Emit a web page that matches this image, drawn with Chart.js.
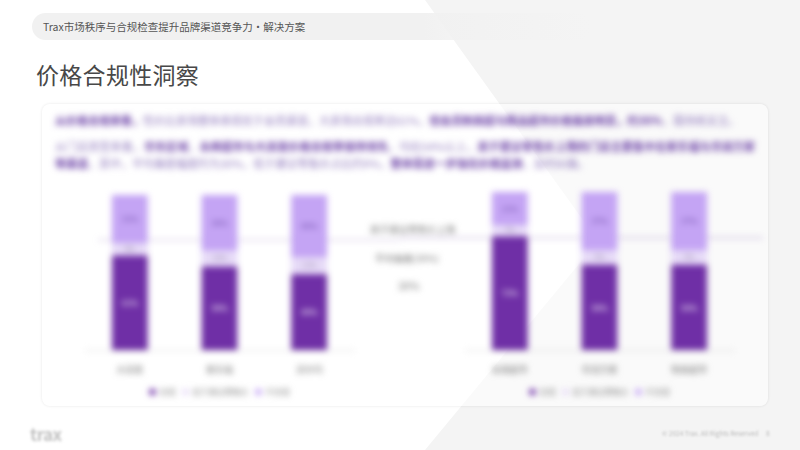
<!DOCTYPE html>
<html lang="zh-CN">
<head>
<meta charset="utf-8">
<title>价格合规性洞察</title>
<script src="https://cdn.jsdelivr.net/npm/chart.js@4.4.1/dist/chart.umd.min.js"></script>
<style>
  html, body { margin: 0; padding: 0; }
  body {
    width: 800px; height: 450px; position: relative; overflow: hidden;
    background: #fff;
    font-family: "Noto Sans CJK SC", "Noto Sans", sans-serif;
  }
  .bg {
    position: absolute; left: 0; top: 0; width: 800px; height: 450px;
    background: #f4f4f4;
    clip-path: polygon(425px 0, 800px 0, 800px 450px, 425px 450px, 598px 241px);
  }
  .topbar {
    position: absolute; left: 32px; top: 13px; width: 560px; height: 27px;
    border-radius: 14px;
    background: linear-gradient(90deg, #f1f1f1 0%, #f1f1f1 70%, rgba(241,241,241,0) 100%);
  }
  .topbar span {
    position: absolute; left: 11px; top: 6px;
    font-size: 10.5px; color: #555; white-space: nowrap;
  }
  h1 {
    position: absolute; left: 36px; top: 57px; margin: 0;
    font-size: 23px; font-weight: 400; color: #484848; letter-spacing: 0.3px;
  }
  .card {
    position: absolute; left: 42px; top: 104px; width: 726px; height: 302px;
    border-radius: 8px;
    background: rgba(255,255,255,0.55);
    box-shadow: 0 0 3px rgba(0,0,0,0.10);
  }
  .blurred { position: absolute; left: 0; top: 0; width: 100%; height: 100%; filter: blur(3px); }
  .para { position: absolute; left: 13px; width: 700px; font-size: 11px; color: #9079bd; margin: 0; }
  .para b { color: #6a3fa6; font-weight: 700; }
  .p1 { top: 8px; white-space: nowrap; }
  .p2 { top: 34px; line-height: 17px; text-align: justify; }
  .chart { position: absolute; top: 76px; height: 226px; }
  #leftBox { left: 38px; width: 320px; }
  #rightBox { left: 358px; width: 365px; }
  .note { position: absolute; font-size: 9.5px; color: #777; white-space: nowrap; }
  .footer-logo {
    position: absolute; left: 30px; top: 421px; font-size: 17px; font-weight: 700;
    color: #c2c2c2; letter-spacing: -0.5px; filter: blur(1.5px);
  }
  .footer-text { position: absolute; top: 428px; font-size: 6.5px; color: #bbb; filter: blur(1px); }
</style>
</head>
<body>
<div class="bg"></div>
<div class="topbar"><span>Trax市场秩序与合规检查提升品牌渠道竞争力・解决方案</span></div>
<h1>价格合规性洞察</h1>

<div class="card">
  <div class="blurred">
    <p class="para p1"><b>从价格合规来看，</b>性价比卖场整体表现优于会员渠道，大卖场合规率达61%，<b>但会员制商超与精品超市价格偏离明显，约36%</b>，需持续关注。</p>
    <p class="para p2">从门店类型来看，<b>华东区域</b>，<b>永辉超市与大润发价格合规率保持领先</b>，均在54%以上，<b>高于建议零售价上限的门店主要集中在家乐福与华润万家等渠道</b>，其中，平均偏差幅度约为30%，低于建议零售价占比约9%，<b>整体需进一步强化价格监测</b>，及时纠偏。</p>
    <div class="chart" id="leftBox"><canvas id="leftChart"></canvas></div>
    <div class="chart" id="rightBox"><canvas id="rightChart"></canvas></div>
    <div class="note" style="left:328px; top:118px;">高于建议零售价上限</div>
    <div class="note" style="left:333px; top:147px;">平均偏差(30%)</div>
    <div class="note" style="left:356px; top:174px; font-size:10.5px;">30%</div>
  </div>
</div>

<div class="footer-logo">trax</div>
<div class="footer-text" style="left:662px;">© 2024 Trax. All Rights Reserved</div>
<div class="footer-text" style="left:766px;">8</div>

<script>
// 데이터
var seriesNames = ['合规', '低于建议零售价', '不合规'];
var leftStores = ['大润发', '家乐福', '沃尔玛'];
var rightStores = ['永辉超市', '华润万家', '物美超市'];

var leftCompliant = [61, 54, 49];
var leftBelow = [8, 10, 11];
var leftAbove = [31, 36, 40];

var rightCompliant = [72, 54, 54];
var rightBelow = [7, 9, 9];
var rightAbove = [21, 37, 37];

var refLine = 71;

var colors = ['#6f2fa6', '#e6daf7', '#c4a4f4'];
var labelColors = ['#ffffff', '#9a8ab0', '#6e4aa8'];
var fontFamily = '"Noto Sans CJK SC", "Noto Sans", sans-serif';

// 막대 안의 퍼센트 라벨
var barLabels = {
  id: 'barLabels',
  afterDatasetsDraw: function (chart) {
    var ctx = chart.ctx;
    ctx.save();
    ctx.textAlign = 'center';
    ctx.textBaseline = 'middle';
    chart.data.datasets.forEach(function (ds, i) {
      var meta = chart.getDatasetMeta(i);
      meta.data.forEach(function (bar, j) {
        ctx.fillStyle = labelColors[i];
        ctx.font = (i == 1 ? '7px ' : '8px ') + fontFamily;
        var p = bar.getCenterPoint();
        ctx.fillText(ds.data[j] + '%', p.x, p.y);
      });
    });
    ctx.restore();
  }
};

// 기준선
var refLinePlugin = {
  id: 'refLinePlugin',
  beforeDatasetsDraw: function (chart, args, opts) {
    var y = chart.scales.y.getPixelForValue(opts.value);
    var ctx = chart.ctx;
    ctx.save();
    ctx.strokeStyle = 'rgba(150,120,190,0.55)';
    ctx.lineWidth = 1.2;
    ctx.beginPath();
    ctx.moveTo(chart.chartArea.left - opts.extendLeft, y);
    ctx.lineTo(chart.chartArea.right + opts.extendRight, y);
    ctx.stroke();
    ctx.restore();
  }
};

function drawChart(id, labels, a, b, c, padding, extendLeft, extendRight) {
  var ctx = document.getElementById(id).getContext('2d');
  return new Chart(ctx, {
    type: 'bar',
    data: {
      labels: labels,
      datasets: [
        { label: seriesNames[0], data: a, backgroundColor: colors[0] },
        { label: seriesNames[1], data: b, backgroundColor: colors[1] },
        { label: seriesNames[2], data: c, backgroundColor: colors[2] }
      ]
    },
    options: {
      responsive: true,
      maintainAspectRatio: false,
      animation: false,
      layout: { padding: padding },
      datasets: { bar: { barPercentage: 0.4, categoryPercentage: 1 } },
      scales: {
        x: {
          stacked: true,
          grid: { display: false },
          border: { color: '#dcdcdc' },
          ticks: { color: '#777', font: { size: 9, family: fontFamily }, padding: 6 }
        },
        y: { stacked: true, display: false, min: 0, max: 100 }
      },
      plugins: {
        legend: {
          position: 'bottom',
          labels: {
            boxWidth: 6, boxHeight: 6, padding: 7,
            color: '#888', font: { size: 8, family: fontFamily }
          }
        },
        tooltip: { enabled: false },
        refLinePlugin: { value: refLine, extendLeft: extendLeft, extendRight: extendRight }
      }
    },
    plugins: [barLabels, refLinePlugin]
  });
}

drawChart('leftChart', leftStores, leftCompliant, leftBelow, leftAbove,
  { left: 5, right: 46, top: 15, bottom: 0 }, -13, 46);
drawChart('rightChart', rightStores, rightCompliant, rightBelow, rightAbove,
  { left: 65, right: 31, top: 12, bottom: 0 }, 65, 29);
</script>
</body>
</html>
